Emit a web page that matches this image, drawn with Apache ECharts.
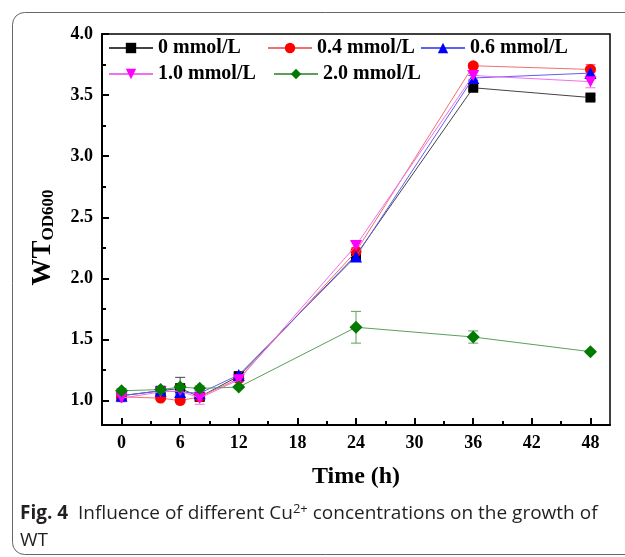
<!DOCTYPE html>
<html>
<head>
<meta charset="utf-8">
<script src="https://cdn.jsdelivr.net/npm/echarts@6/dist/echarts.min.js"></script>
<style>html,body{margin:0;padding:0;background:#fff}#c{width:625px;height:557px}</style>
</head>
<body>
<div id="c"></div>
<script>
const times = [0, 4, 6, 8, 12, 24, 36, 48];
const seriesNames = ['0 mmol/L', '0.4 mmol/L', '0.6 mmol/L', '1.0 mmol/L', '2.0 mmol/L'];
const v0  = [1.04, 1.08, 1.10, 1.03, 1.20, 2.19, 3.56, 3.48];
const v04 = [1.03, 1.02, 1.00, 1.03, 1.18, 2.22, 3.74, 3.71];
const v06 = [1.04, 1.08, 1.07, 1.06, 1.21, 2.18, 3.64, 3.68];
const v10 = [1.02, 1.07, 1.08, 1.02, 1.17, 2.27, 3.66, 3.61];
const v20 = [1.08, 1.09, 1.11, 1.10, 1.11, 1.60, 1.52, 1.40];
const e0  = [0.02, 0.02, 0.09, 0.03, 0.02, 0.03, 0.02, 0.02];
const e04 = [0.02, 0.01, 0.01, 0.02, 0.02, 0.03, 0.02, 0.04];
const e06 = [0.02, 0.02, 0.02, 0.02, 0.02, 0.03, 0.02, 0.04];
const e10 = [0.03, 0.02, 0.02, 0.05, 0.02, 0.04, 0.03, 0.05];
const e20 = [0.02, 0.02, 0.03, 0.02, 0.01, 0.13, 0.05, 0.01];
const xMajor = [0, 6, 12, 18, 24, 30, 36, 42, 48];
const xMinor = [3, 9, 15, 21, 27, 33, 39, 45];
const yMajor = [1.0, 1.5, 2.0, 2.5, 3.0, 3.5, 4.0];
const yMinor = [1.25, 1.75, 2.25, 2.75, 3.25, 3.75];

const values = [v0, v04, v06, v10, v20];
const errors = [e0, e04, e06, e10, e20];
const colors = ['#000000', '#ff0000', '#0000ff', '#ff00ff', '#007a00'];
const lineColors = ['#444444', '#f07070', '#6060f0', '#f070f0', '#5aa05a'];
const symbols = ['rect', 'circle', 'triangle', 'path://M0,0 L10,0 L5,9 Z', 'diamond'];
const symbolSizes = [10, 11, 12, [12, 11], 13];

const serif = 'Liberation Serif';
const chart = echarts.init(document.getElementById('c'));

const lineSeries = seriesNames.map((n, i) => ({
  name: n,
  type: 'line',
  xAxisIndex: 0, yAxisIndex: 0,
  data: times.map((t, j) => [t, values[i][j]]),
  symbol: symbols[i],
  symbolSize: symbolSizes[i],
  itemStyle: { color: colors[i] },
  lineStyle: { color: lineColors[i], width: 1 },
  z: 3 + i
}));

const errSeries = seriesNames.map((n, i) => ({
  name: n + ' err',
  type: 'custom',
  xAxisIndex: 0, yAxisIndex: 0,
  data: times.map((t, j) => [t, values[i][j] - errors[i][j], values[i][j] + errors[i][j]]),
  renderItem: function (params, api) {
    const lo = api.coord([api.value(0), api.value(1)]);
    const hi = api.coord([api.value(0), api.value(2)]);
    const w = 5;
    const st = { stroke: lineColors[i], lineWidth: 1 };
    return { type: 'group', children: [
      { type: 'line', shape: { x1: lo[0], y1: lo[1], x2: hi[0], y2: hi[1] }, style: st },
      { type: 'line', shape: { x1: lo[0] - w, y1: lo[1], x2: lo[0] + w, y2: lo[1] }, style: st },
      { type: 'line', shape: { x1: hi[0] - w, y1: hi[1], x2: hi[0] + w, y2: hi[1] }, style: st }
    ]};
  },
  z: 2
}));

const legendPos = [[103, 33], [262, 33], [415, 33], [103, 59], [268, 59]];
const legends = seriesNames.map((n, i) => ({
  data: [n],
  left: legendPos[i][0], top: legendPos[i][1],
  itemWidth: 44, itemHeight: 13, itemGap: 0,
  selectedMode: false,
  textStyle: { fontFamily: serif, fontWeight: 'bold', fontSize: 20, color: '#000', lineHeight: 20 }
}));

chart.setOption({
  animation: false,
  backgroundColor: '#fff',
  grid: { left: 102, top: 34, right: 15, bottom: 132, show: true, borderColor: '#000', borderWidth: 1.5, backgroundColor: 'transparent' },
  legend: legends,
  xAxis: [
    { type: 'value', min: -2, max: 50, position: 'bottom',
      name: 'Time (h)', nameLocation: 'middle', nameGap: 40,
      nameTextStyle: { fontFamily: serif, fontWeight: 'bold', fontSize: 24, color: '#000' },
      axisLine: { onZero: false, lineStyle: { color: '#000', width: 2 } },
      axisTick: { inside: true, length: 7, lineStyle: { width: 2, color: '#000' }, customValues: xMajor },
      axisLabel: { customValues: xMajor, margin: 9, fontFamily: serif, fontWeight: 'bold', fontSize: 18, color: '#000' },
      splitLine: { show: false } },
    { type: 'value', min: -2, max: 50, position: 'bottom',
      axisLine: { show: false, onZero: false },
      axisTick: { inside: true, length: 4, lineStyle: { width: 2, color: '#000' }, customValues: xMinor },
      axisLabel: { show: false },
      splitLine: { show: false } }
  ],
  yAxis: [
    { type: 'value', min: 0.8, max: 4.0, position: 'left',
      name: '{a|WT}{b|OD600}', nameLocation: 'middle', nameGap: 45, nameRotate: 90,
      nameTextStyle: { rich: {
        a: { fontFamily: serif, fontWeight: 'bold', fontSize: 27, color: '#000' },
        b: { fontFamily: serif, fontWeight: 'bold', fontSize: 17, color: '#000', verticalAlign: 'bottom', padding: [0, 16, 0, 0] }
      } },
      axisLine: { onZero: false, lineStyle: { color: '#000', width: 2 } },
      axisTick: { inside: true, length: 7, lineStyle: { width: 2, color: '#000' }, customValues: yMajor },
      axisLabel: { customValues: yMajor, margin: 9, formatter: v => v.toFixed(1), fontFamily: serif, fontWeight: 'bold', fontSize: 18, color: '#000' },
      splitLine: { show: false } },
    { type: 'value', min: 0.8, max: 4.0, position: 'left',
      axisLine: { show: false, onZero: false },
      axisTick: { inside: true, length: 4, lineStyle: { width: 2, color: '#000' }, customValues: yMinor },
      axisLabel: { show: false },
      splitLine: { show: false } }
  ],
  series: errSeries.concat(lineSeries),
  graphic: [
    { type: 'rect', shape: { x: 12.5, y: 12.5, width: 660, height: 542, r: 12 },
      style: { fill: 'none', stroke: '#666', lineWidth: 1 }, silent: true, z: -1 },
    { type: 'text', left: 20, top: 503,
      style: { text: '{b|Fig. 4}{n|  Influence of different Cu}{s|2+}{n| concentrations on the growth of}',
        rich: {
          b: { fontFamily: 'Open Sans', fontWeight: 'bold', fontSize: 19, fill: '#231f20' },
          n: { fontFamily: 'Open Sans', fontSize: 19, fill: '#231f20' },
          s: { fontFamily: 'Open Sans', fontSize: 13, fill: '#231f20', verticalAlign: 'top', padding: [0, 0, 8, 0] }
        } } },
    { type: 'text', left: 20, top: 531,
      style: { text: 'WT', fontFamily: 'Open Sans', fontSize: 19, fill: '#231f20' } }
  ]
});
</script>
</body>
</html>
